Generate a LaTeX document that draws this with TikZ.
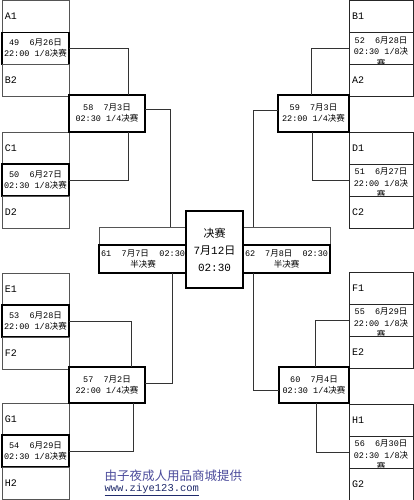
\documentclass[tikz,border=0pt]{standalone}
\usepackage{fontspec}
\setmainfont{Liberation Mono}
\newfontfamily\cjk{Noto Sans CJK SC}
\usetikzlibrary{positioning}
\definecolor{CellGray}{HTML}{555555}
\definecolor{FootBlue}{HTML}{4B4B9B}
\definecolor{UrlBlue}{HTML}{1F2A6B}
\newcommand\yue{{\cjk 月}}
\newcommand\ri{{\cjk 日}}
\newcommand\jue{{\cjk 决赛}}

\begin{document}
\begin{tikzpicture}[x=1pt,y=-1pt,
  cell/.style={rectangle,draw=CellGray,line width=.6pt,outer sep=0pt,inner sep=3pt,
    minimum height=32pt,text width=61pt,align=left,font=\fontsize{10}{12}\selectfont},
  rcell/.style={cell,draw=black!85,line width=.9pt,text width=58pt,fill=white},
  mbox/.style={rectangle,draw,line width=1.3pt,outer sep=0pt,inner sep=1pt,
    minimum width=67pt,minimum height=32pt,align=center,font=\fontsize{8.5}{11}\selectfont},
  rbox/.style={rectangle,draw=black!85,line width=.9pt,outer sep=0pt,
    minimum width=64pt,minimum height=32pt},
  rtext/.style={inner sep=0pt,align=center,font=\fontsize{8.5}{11.5}\selectfont},
  qbox/.style={mbox,minimum width=76pt,minimum height=37pt},
  shead/.style={rectangle,draw=CellGray,line width=.6pt,outer sep=0pt,
    minimum width=88pt,minimum height=18pt},
  sbox/.style={rectangle,draw,line width=1.3pt,outer sep=0pt,inner sep=2pt,
    text width=84pt,minimum height=28pt,align=center,font=\fontsize{8.5}{11}\selectfont},
  fbox/.style={rectangle,draw,line width=1.4pt,outer sep=0pt,inner sep=0pt,fill=white,
    minimum width=57pt,minimum height=77pt,align=center,font=\fontsize{11}{17}\selectfont},
  link/.style={draw=black!80,line width=.7pt}]
  \useasboundingbox (0,0) rectangle (414,500);

  % left half, round of 16
  \node[cell,anchor=north west] (A1) at (2,0.5) {A1};
  \node[mbox,below=0pt of A1] (m49) {49~~6\yue 26\ri\\22:00 1/8\jue};
  \node[cell,below=0pt of m49] (B2) {B2};
  \node[cell,anchor=north west] (C1) at (2,132) {C1};
  \node[mbox,below=0pt of C1] (m50) {50~~6\yue 27\ri\\02:30 1/8\jue};
  \node[cell,below=0pt of m50] (D2) {D2};
  \node[cell,anchor=north west] (E1) at (2,273) {E1};
  \node[mbox,below=0pt of E1] (m53) {53~~6\yue 28\ri\\22:00 1/8\jue};
  \node[cell,below=0pt of m53] (F2) {F2};
  \node[cell,anchor=north west] (G1) at (2,403) {G1};
  \node[mbox,below=0pt of G1] (m54) {54~~6\yue 29\ri\\02:30 1/8\jue};
  \node[cell,below=0pt of m54] (H2) {H2};

  % right half, round of 16
  \node[rcell,anchor=north west] (B1) at (349,0.5) {B1};
  \node[rbox,below=0pt of B1] (m52) {};
  \node[rtext,below=4pt of m52.north] (m52t) {52~~6\yue 28\ri\\02:30 1/8{\cjk 决}\\{\cjk 赛}};
  \node[rcell,below=0pt of m52] (A2) {A2};
  \node[rcell,anchor=north west] (D1) at (349,132) {D1};
  \node[rbox,below=0pt of D1] (m51) {};
  \node[rtext,below=4pt of m51.north] (m51t) {51~~6\yue 27\ri\\22:00 1/8{\cjk 决}\\{\cjk 赛}};
  \node[rcell,below=0pt of m51] (C2) {C2};
  \node[rcell,anchor=north west] (F1) at (349,272) {F1};
  \node[rbox,below=0pt of F1] (m55) {};
  \node[rtext,below=4pt of m55.north] (m55t) {55~~6\yue 29\ri\\22:00 1/8{\cjk 决}\\{\cjk 赛}};
  \node[rcell,below=0pt of m55] (E2) {E2};
  \node[rcell,anchor=north west] (H1) at (349,404) {H1};
  \node[rbox,below=0pt of H1] (m56) {};
  \node[rtext,below=4pt of m56.north] (m56t) {56~~6\yue 30\ri\\02:30 1/8{\cjk 决}\\{\cjk 赛}};
  \node[rcell,below=0pt of m56] (G2) {G2};

  % quarter finals
  \node[qbox,anchor=north west] (q58) at (69,95) {58~~7\yue 3\ri\\02:30 1/4\jue};
  \node[qbox,anchor=north west,minimum height=36pt] (q57) at (69,367) {57~~7\yue 2\ri\\22:00 1/4\jue};
  \node[qbox,anchor=north west,minimum width=71pt] (q59) at (278,95) {59~~7\yue 3\ri\\22:00 1/4\jue};
  \node[qbox,anchor=north west,minimum width=70pt,minimum height=36pt] (q60) at (279,367) {60~~7\yue 4\ri\\02:30 1/4\jue};

  % semi finals and final
  \node[shead,anchor=north west] (s61h) at (99,227) {};
  \node[sbox,below=0pt of s61h] (s61) {61\hfill 7\yue 7\ri\hfill 02:30\\{\cjk 半决赛}};
  \node[shead,anchor=north west,minimum width=87pt] (s62h) at (243,227) {};
  \node[sbox,below=0pt of s62h,text width=83pt] (s62) {62\hfill 7\yue 8\ri\hfill 02:30\\{\cjk 半决赛}};
  \node[fbox,anchor=north west] (fin) at (186,211) {\jue\\7\yue 12\ri\\02:30};

  % connectors
  \draw[link] (m49.east) -| ([xshift=-17pt]q58.north east);
  \draw[link] (m50.east) -| ([xshift=-17pt]q58.south east);
  \draw[link] (m53.east) -| ([xshift=-14pt]q57.north east);
  \draw[link] (m54.east) -| ([xshift=-12pt]q57.south east);
  \draw[link] (m52.west) -| ([xshift=33pt]q59.north west);
  \draw[link] (m51.west) -| ([xshift=34pt]q59.south west);
  \draw[link] (m55.west) -| ([xshift=36pt]q60.north west);
  \draw[link] (m56.west) -| ([xshift=37pt]q60.south west);
  \draw[link] ([yshift=4pt]q58.east) -| ([xshift=71pt]s61h.north west);
  \draw[link] ([yshift=2pt]q57.east) -| ([xshift=73pt]s61.south west);
  \draw[link] ([yshift=3pt]q59.west) -| ([xshift=10pt]s62h.north west);
  \draw[link] ([yshift=-5pt]q60.west) -| ([xshift=10pt]s62.south west);

  % footer
  \node[anchor=west,text=FootBlue,font=\cjk\fontsize{12.5}{14}\selectfont] (foot) at (101,476) {由子夜成人用品商城提供};
  \node[anchor=west,text=UrlBlue,font=\fontsize{10.5}{12}\selectfont] (url) at (101,490) {\underline{www.ziye123.com}};
\end{tikzpicture}
\end{document}
